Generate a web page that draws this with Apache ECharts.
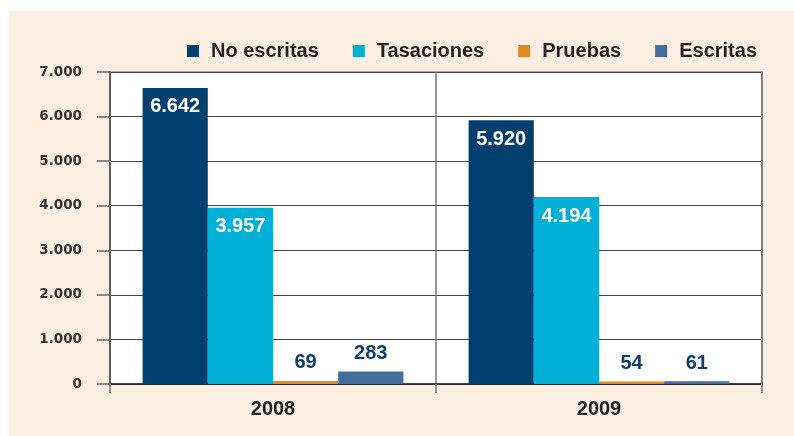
<!DOCTYPE html>
<html>
<head>
<meta charset="utf-8">
<script src="https://cdn.jsdelivr.net/npm/echarts@6/dist/echarts.min.js"></script>
<style>
html,body{margin:0;padding:0;background:#ffffff;width:794px;height:436px;overflow:hidden;}
#c{position:absolute;left:9px;top:11px;width:785px;height:425px;background:#fcefe2;}
</style>
</head>
<body>
<div id="c"></div>
<script>
const categories = ['2008', '2009'];
const seriesNames = ['No escritas', 'Tasaciones', 'Pruebas', 'Escritas'];
const noEscritas = [6642, 5920];
const tasaciones = [3957, 4194];
const pruebas = [69, 54];
const escritas = [283, 61];
const yTicks = [0, 1000, 2000, 3000, 4000, 5000, 6000, 7000];

const colors = ['#003f6e', '#00b0d6', '#e08a1e', '#436e9b'];
const FONT = '"Liberation Sans", Arial, sans-serif';

function fmt(v) {
  return String(v).replace(/\B(?=(\d{3})+(?!\d))/g, '.');
}

function labelFor(v) {
  if (v > 1000) {
    return { show: true, position: 'insideTop', distance: 9, color: '#ffffff', fontFamily: FONT, fontWeight: 'bold', fontSize: 20, formatter: p => fmt(p.value) };
  }
  return { show: true, position: 'top', distance: 8, color: '#0d3e6c', fontFamily: FONT, fontWeight: 'bold', fontSize: 20, formatter: p => fmt(p.value) };
}

function mk(name, arr, color) {
  return {
    name: name,
    type: 'bar',
    barGap: '0%',
    barCategoryGap: '20%',
    itemStyle: { color: color },
    data: arr.map(v => ({ value: v, label: labelFor(v) }))
  };
}

const chart = echarts.init(document.getElementById('c'), null, { renderer: 'canvas' });
chart.setOption({
  animation: false,
  backgroundColor: '#fcefe2',
  legend: {
    right: 32,
    top: 25,
    itemWidth: 12,
    itemHeight: 12,
    itemGap: 34,
    icon: 'rect',
    textStyle: { fontFamily: FONT, fontWeight: 'bold', fontSize: 20, color: '#231f20', padding: [0, 0, 0, 7] },
    data: seriesNames
  },
  grid: {
    left: 101, top: 61, right: 32, bottom: 52,
    show: true, backgroundColor: '#ffffff', borderColor: '#8a8a8a', borderWidth: 1.5
  },
  xAxis: {
    type: 'category',
    data: categories,
    axisLine: { show: true, lineStyle: { color: '#222', width: 1.5 } },
    axisTick: { show: true, length: 9, lineStyle: { color: '#777', width: 1.5 } },
    splitLine: { show: true, lineStyle: { color: '#777', width: 1.5 } },
    axisLabel: { margin: 15, fontFamily: FONT, fontWeight: 'bold', fontSize: 20, color: '#231f20' }
  },
  yAxis: {
    type: 'value',
    min: 0, max: 7000, interval: 1000,
    axisLine: { show: true, lineStyle: { color: '#555', width: 1.5 } },
    axisTick: { show: true, length: 13, lineStyle: { color: '#666', width: 1.5 } },
    splitLine: { show: true, lineStyle: { color: '#444', width: 1.2 } },
    axisLabel: {
      margin: 28,
      fontFamily: '"DejaVu Sans", sans-serif', fontWeight: 'bold', fontSize: 13.5, color: '#333333',
      customValues: yTicks,
      formatter: v => fmt(v)
    }
  },
  series: [
    mk(seriesNames[0], noEscritas, colors[0]),
    mk(seriesNames[1], tasaciones, colors[1]),
    mk(seriesNames[2], pruebas, colors[2]),
    mk(seriesNames[3], escritas, colors[3])
  ]
});
</script>
</body>
</html>
